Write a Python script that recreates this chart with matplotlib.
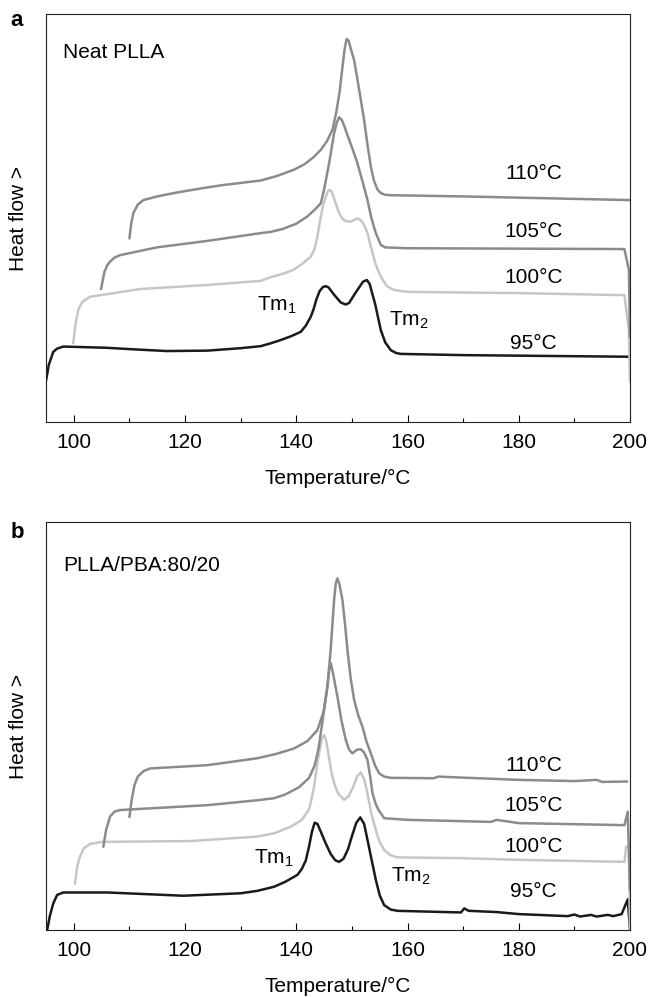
import matplotlib.pyplot as plt
from matplotlib.ticker import MultipleLocator

plt.rcParams['font.family'] = ['Liberation Sans', 'DejaVu Sans']
plt.rcParams['mathtext.fontset'] = 'custom'
plt.rcParams['mathtext.rm'] = 'Liberation Sans'

# --- panel a: neat PLLA (heat flow in arbitrary units, 0-100) ---
a_t95 = [95, 95.5, 96.3, 97, 98.1, 105.9, 111, 116.7, 124, 130, 133.6, 135.4, 137, 139, 140.8,
         141.7, 142.6, 143.1, 143.6, 144.2, 144.8, 145.3, 145.8, 146.8, 148, 148.9, 149.5, 150.8,
         152, 152.7, 153.2, 154.2, 155.2, 156, 157, 158, 158.8, 170, 185, 200]
a_y95 = [10.1, 14.0, 17.2, 18.0, 18.5, 18.2, 17.8, 17.4, 17.5, 18.1, 18.6, 19.3, 20.0, 21.0, 22.1,
         23.6, 25.8, 27.6, 30.0, 32.1, 33.1, 33.3, 33.0, 31.2, 29.3, 28.8, 29.2, 32.0,
         34.4, 34.8, 33.8, 28.8, 22.5, 19.5, 17.6, 16.9, 16.7, 16.4, 16.2, 16.0]

a_t100 = [99.9, 100.3, 100.8, 101.5, 102.9, 111.9, 124, 133.6, 135.4, 137.5, 139.5, 141,
          142.6, 143.3, 143.8, 144.3, 144.8, 145.3, 145.7, 146.0, 146.4, 147, 147.6, 148.3,
          149, 149.8, 150.5, 151.0, 151.6, 152.2, 152.8, 153.4, 154.3, 155.2, 156.3, 157.5,
          160, 180, 199, 199.8, 200]
a_y100 = [19.3, 24.0, 27.5, 29.4, 30.7, 32.6, 33.6, 34.6, 35.5, 36.3, 37.3, 38.7,
          40.5, 42.5, 45.5, 49.5, 53.0, 55.3, 56.6, 56.9, 56.4, 54.0, 51.5, 49.8,
          49.2, 49.1, 49.6, 49.9, 49.5, 48.3, 46.3, 43.0, 38.5, 35.6, 33.3, 32.4,
          31.9, 31.6, 31.1, 22.5, 9.9]

a_t105 = [104.9, 105.5, 106, 106.5, 107.3, 108.3, 114.9, 124, 133.6, 135.4, 137.5, 140, 142,
          143.5, 144.4, 145, 145.9, 146.4, 146.8, 147.3, 147.7, 148.2, 148.7, 149.2, 150.1,
          151, 151.9, 152.8, 153.5, 154.3, 155.2, 156, 160, 199, 199.8, 200]
a_y105 = [32.6, 36.8, 38.4, 39.3, 40.3, 40.9, 42.8, 44.4, 46.3, 46.6, 47.3, 48.6, 50.4,
          52.3, 53.6, 57.0, 63.4, 67.5, 70.8, 73.5, 74.7, 74.0, 72.3, 70.3, 67.0,
          63.4, 59.0, 54.4, 50.0, 46.3, 43.4, 42.8, 42.6, 42.4, 37.3, 20.8]

a_t110 = [110, 110.3, 110.7, 111.5, 112.5, 115, 117.9, 120, 123.5, 126.9, 130, 133.6, 136.5, 139.5,
          141.5, 143, 144.4, 145.5, 146.5, 147.2, 147.8, 148.3, 148.7, 149.05, 149.4, 149.8,
          150.4, 151.3, 152.2, 152.8, 153.4, 154, 154.6, 155.2, 156, 157, 170, 200]
a_y110 = [45.0, 48.5, 51.2, 53.3, 54.4, 55.3, 56.1, 56.6, 57.4, 58.1, 58.6, 59.2, 60.3, 61.8,
          63.2, 64.8, 66.7, 68.8, 71.6, 76.0, 81.0, 87.0, 91.5, 93.9, 93.5, 91.5,
          88.7, 81.5, 74.0, 68.0, 62.6, 59.0, 57.0, 56.1, 55.7, 55.6, 55.3, 54.4]

# --- panel b: PLLA/PBA 80/20 ---
b_t95 = [95.2, 95.7, 96.3, 97, 98.1, 106, 119.7, 130, 133, 136, 138, 140.2, 141, 141.7,
         142.3, 142.8, 143.3, 143.8, 144.5, 145.3, 146.2, 147, 147.7, 148.5, 149.3, 150,
         150.8, 151.5, 152.2, 152.8, 153.5, 154.3, 155, 155.8, 157, 158.2, 169.6, 170.2,
         171, 176, 180, 188.8, 190, 191, 193, 194, 196, 197, 198.5, 199.6, 200]
b_y95 = [0, 3.5, 6.5, 8.6, 9.2, 9.2, 8.4, 9.0, 9.6, 10.6, 11.8, 13.5, 15.0, 17.0,
         20.5, 24.0, 26.3, 26.0, 23.8, 21.2, 18.6, 17.1, 16.7, 17.5, 19.8, 23.0,
         26.3, 27.6, 26.0, 22.1, 17.5, 12.3, 8.5, 6.1, 5.0, 4.7, 4.3, 5.3,
         4.7, 4.4, 3.9, 3.4, 3.8, 3.3, 3.7, 3.3, 3.7, 3.4, 3.9, 7.5, 0]

b_t100 = [100.2, 100.6, 101.1, 101.8, 102.9, 105, 121, 133, 136, 139, 141, 142.3, 142.8,
          143.2, 143.7, 144.2, 144.6, 145, 145.4, 145.8, 146.3, 146.8, 147.5, 148.6, 149.4,
          150.2, 150.9, 151.6, 152.2, 152.8, 153.5, 154.3, 155, 155.8, 157, 158.2, 170,
          180, 199, 199.3, 199.8, 200]
b_y100 = [11.3, 15.5, 18.0, 20.0, 21.1, 21.6, 21.8, 22.9, 23.7, 25.3, 27.0, 29.6, 32.5,
          35.1, 40.0, 44.1, 46.8, 47.8, 46.3, 42.9, 38.8, 36.0, 33.5, 31.9, 32.8,
          35.0, 37.6, 38.6, 37.0, 33.5, 28.5, 24.5, 21.5, 19.6, 18.3, 17.8, 17.6,
          17.2, 16.7, 20.4, 20.6, 0]

b_t105 = [105.3, 105.8, 106.5, 107.3, 108.3, 124, 133, 136, 138, 140.5, 142.3, 143.3, 144,
          144.8, 145.5, 145.9, 146.2, 146.6, 147, 147.4, 148.1, 148.9, 149.5, 150.1, 150.9,
          151.6, 152.2, 152.8, 153.3, 153.7, 154.3, 154.8, 155.8, 160, 175, 176, 180, 199,
          199.6, 200]
b_y105 = [20.4, 24.5, 27.8, 29.0, 29.4, 30.6, 31.8, 32.3, 33.2, 35.0, 37.3, 40.3, 44.5,
          52.0, 58.8, 63.5, 65.4, 63.0, 60.0, 57.2, 51.5, 46.6, 44.2, 43.3, 44.2,
          44.3, 43.5, 41.7, 37.5, 33.5, 30.8, 29.4, 27.4, 27.0, 26.5, 27.0, 26.2, 25.7,
          29.0, 9.8]

b_t110 = [110, 110.4, 110.9, 111.5, 112.5, 113.7, 124, 133, 136.5, 139.6, 142, 143.8, 144.9,
          145.6, 146.2, 146.8, 147.1, 147.4, 147.8, 148.3, 148.8, 149.2, 149.8, 150.4, 151.1,
          151.9, 152.6, 153.4, 154.2, 154.9, 155.8, 157, 164.7, 165.5, 180, 190, 194, 195,
          199.5]
b_y110 = [27.7, 31.9, 35.5, 37.6, 38.9, 39.6, 40.4, 42.1, 43.2, 44.5, 46.3, 49.0, 53.5,
          59.6, 69.0, 80.9, 85.0, 86.2, 84.5, 80.9, 74.5, 68.6, 61.5, 56.4, 52.8,
          49.8, 46.3, 43.3, 40.2, 38.4, 37.6, 37.3, 37.2, 37.6, 36.8, 36.5, 36.8, 36.3,
          36.4]

series_labels = ['95°C', '100°C', '105°C', '110°C']
colors = ['#1a1a1a', '#c6c6c6', '#8b8b8f', '#8b8b8f']

panels = [
    dict(tag='a', title='Neat PLLA', title_y=0.905,
         curves=[(a_t95, a_y95), (a_t100, a_y100), (a_t105, a_y105), (a_t110, a_y110)],
         label_y=[19.3, 35.4, 46.8, 61.0], tm1=(140.0, 28.7), tm2=(156.6, 25.0)),
    dict(tag='b', title='PLLA/PBA:80/20', title_y=0.893,
         curves=[(b_t95, b_y95), (b_t100, b_y100), (b_t105, b_y105), (b_t110, b_y110)],
         label_y=[9.4, 20.4, 30.6, 40.4], tm1=(139.5, 17.6), tm2=(157.0, 13.1)),
]

fig = plt.figure(figsize=(6.49, 9.97), dpi=100)
axes = [fig.add_axes([0.0709, 0.5767, 0.8998, 0.4092]),
        fig.add_axes([0.0709, 0.0672, 0.8998, 0.4092])]
tag_y = [1 - 20 / 997, 1 - 533 / 997]

for ax, p, ty in zip(axes, panels, tag_y):
    for (t, y), c in zip(p['curves'], colors):
        ax.plot(t, y, color=c, lw=1.8, solid_joinstyle='round', solid_capstyle='round')
    for lab, ly in zip(series_labels, p['label_y']):
        ax.text(182.7, ly, lab, ha='center', va='center', fontsize=15)
    ax.text(p['tm1'][0], p['tm1'][1], r'Tm$_\mathrm{1}$', ha='right', va='center', fontsize=15)
    ax.text(p['tm2'][0], p['tm2'][1], r'Tm$_\mathrm{2}$', ha='left', va='center', fontsize=15)
    ax.text(0.029, p['title_y'], p['title'], transform=ax.transAxes,
            ha='left', va='center', fontsize=15)

    ax.set_xlim(95, 200)
    ax.set_ylim(0, 100)
    ax.set_yticks([])
    ax.xaxis.set_major_locator(MultipleLocator(20))
    ax.xaxis.set_minor_locator(MultipleLocator(10))
    ax.tick_params(axis='x', which='major', direction='in', length=5, width=0.8,
                   labelsize=15, pad=8)
    ax.tick_params(axis='x', which='minor', direction='in', length=3, width=0.8)
    for s in ax.spines.values():
        s.set_linewidth(0.8)
        s.set_color('#222222')
    ax.set_xlabel('Temperature/°C', fontsize=15, labelpad=12)
    ax.set_ylabel('Heat flow >', fontsize=15)
    ax.yaxis.set_label_coords(-0.03, 0.5)
    fig.text(17 / 649, ty, p['tag'], fontsize=16, fontweight='bold', ha='center', va='center')

fig.savefig('out.png', dpi=100)
